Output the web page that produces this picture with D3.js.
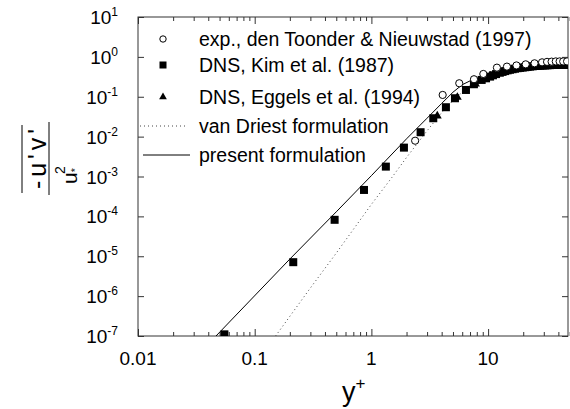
<!DOCTYPE html>
<html>
<head>
<meta charset="utf-8">
<script src="https://cdn.jsdelivr.net/npm/d3@7"></script>
<style>
  body { margin: 0; background: #fff; }
  text { font-family: "Liberation Sans", Arial, Helvetica, sans-serif; fill: #000; }
</style>
</head>
<body>
<svg id="chart" width="570" height="409"></svg>
<script>
// exp., den Toonder & Nieuwstad (1997) - open circles
const expX = [2.37, 4.08, 5.66, 7.57, 9.1, 11.9, 14.5, 17.5, 21, 25, 29, 32, 35, 38, 41, 44, 47.5];
const expY = [0.0079, 0.111, 0.218, 0.275, 0.373, 0.537, 0.57, 0.61, 0.65, 0.69, 0.73, 0.75, 0.76, 0.77, 0.77, 0.77, 0.77];

// DNS, Kim et al. (1987) - filled squares
const kimX = [0.055, 0.214, 0.484, 0.864, 1.33, 1.90, 2.64, 3.39, 4.35, 5.2, 6.46, 7.56, 8.81, 9.6, 10.4, 11.0, 11.7,
              12.6, 13.3, 14.0, 14.7, 15.4, 16.2, 17.0, 17.9, 18.8, 19.8, 20.8, 21.8, 22.9, 24.1, 25.3, 26.6, 27.9,
              29.3, 30.8, 32.3, 33.9, 35.6, 37.4, 39.3, 41.3, 43.0, 44.8, 46.6, 48.4];
const kimY = [1.1e-7, 7.1e-6, 8.2e-5, 4.6e-4, 1.77e-3, 5.3e-3, 0.0129, 0.0289, 0.0546, 0.0917, 0.148, 0.206, 0.264, 0.29, 0.32, 0.345, 0.37,
              0.40, 0.42, 0.44, 0.46, 0.475, 0.49, 0.505, 0.52, 0.53, 0.54, 0.55, 0.56, 0.57, 0.58, 0.59, 0.595, 0.60,
              0.605, 0.61, 0.615, 0.62, 0.625, 0.63, 0.63, 0.635, 0.635, 0.635, 0.63, 0.63];

// DNS, Eggels et al. (1994) - filled triangles
const eggX = [3.67, 5.45, 7.8, 10.5, 14, 20, 28, 40];
const eggY = [0.033, 0.097, 0.21, 0.33, 0.45, 0.55, 0.61, 0.64];

// van Driest formulation - dotted
const vdX = [0.151, 0.3, 0.5, 1, 1.5, 2, 2.5, 3, 4, 5, 6, 7, 8, 10, 13, 17, 22, 30, 40, 50];
const vdY = [1e-7, 1.6e-6, 1.2e-5, 2e-4, 9.5e-4, 3e-3, 7e-3, 0.014, 0.04, 0.08, 0.13, 0.19, 0.25, 0.33, 0.44, 0.53, 0.6, 0.66, 0.69, 0.69];

// present formulation - solid
const prX = [0.0466, 0.2, 0.5, 1, 2, 3, 4, 5, 6, 7, 8, 10, 13, 17, 22, 30, 40, 50];
const prY = [1e-7, 8.5e-6, 1.3e-4, 1.05e-3, 8.8e-3, 0.029, 0.068, 0.13, 0.2, 0.25, 0.29, 0.36, 0.45, 0.53, 0.59, 0.65, 0.68, 0.68];

const xMajor = [0.01, 0.1, 1, 10];
const xMajorLabels = ["0.01", "0.1", "1", "10"];
const yExponents = [1, 0, -1, -2, -3, -4, -5, -6, -7];

const legendLabels = [
  "exp., den Toonder & Nieuwstad (1997)",
  "DNS, Kim et al. (1987)",
  "DNS, Eggels et al. (1994)",
  "van Driest formulation",
  "present formulation"
];

const svg = d3.select("#chart");
const L = 138, R = 568, T = 17, B = 336;

const x = d3.scaleLog().domain([0.01, 50]).range([L, L + 3.699 * 116.7]);
const y = d3.scaleLog().domain([1e-7, 10]).range([B, T]);

// minor x ticks
const xMinor = [];
[0.01, 0.1, 1, 10].forEach(d => { for (let k = 2; k <= 9; k++) { if (d * k <= 50) xMinor.push(d * k); } });

const axisColor = "#333";

function styleAxis(g) {
  g.select(".domain").remove();
  g.selectAll(".tick line").attr("stroke", axisColor).attr("stroke-width", 1);
  g.selectAll(".tick text").remove();
}

svg.append("g").attr("transform", `translate(0,${B})`)
  .call(d3.axisBottom(x).tickValues(xMajor).tickSize(-7)).call(styleAxis);
svg.append("g").attr("transform", `translate(0,${B})`)
  .call(d3.axisBottom(x).tickValues(xMinor).tickSize(-4)).call(styleAxis);
svg.append("g").attr("transform", `translate(0,${T})`)
  .call(d3.axisTop(x).tickValues(xMajor).tickSize(-7)).call(styleAxis);
svg.append("g").attr("transform", `translate(0,${T})`)
  .call(d3.axisTop(x).tickValues(xMinor).tickSize(-4)).call(styleAxis);

const yTicks = yExponents.map(e => Math.pow(10, e));
svg.append("g").attr("transform", `translate(${L},0)`)
  .call(d3.axisLeft(y).tickValues(yTicks).tickSize(-6)).call(styleAxis);
svg.append("g").attr("transform", `translate(${R},0)`)
  .call(d3.axisRight(y).tickValues(yTicks).tickSize(-6)).call(styleAxis);

// frame
svg.append("rect")
  .attr("x", L).attr("y", T).attr("width", R - L).attr("height", B - T)
  .attr("fill", "none").attr("stroke", axisColor).attr("stroke-width", 1);

// x tick labels
svg.append("g").selectAll("text").data(xMajor).join("text")
  .attr("x", d => x(d)).attr("y", B + 29)
  .attr("text-anchor", "middle").attr("font-size", 19)
  .text((d, i) => xMajorLabels[i]);

// y tick labels 10^n
const yl = svg.append("g").selectAll("text").data(yExponents).join("text")
  .attr("x", 118).attr("y", d => y(Math.pow(10, d)) + 7)
  .attr("text-anchor", "end").attr("font-size", 19);
yl.append("tspan").text("10");
yl.append("tspan").attr("font-size", 12).attr("dy", -8).text(d => d);

// clip region
svg.append("clipPath").attr("id", "clip")
  .append("rect").attr("x", L).attr("y", T).attr("width", R - L).attr("height", B - T);

const plot = svg.append("g").attr("clip-path", "url(#clip)");

const line = d3.line().x(d => x(d[0])).y(d => y(d[1]));

plot.append("path").datum(d3.zip(vdX, vdY))
  .attr("d", line).attr("fill", "none").attr("stroke", "#444")
  .attr("stroke-width", 1).attr("stroke-dasharray", "1,3");

plot.append("path").datum(d3.zip(prX, prY))
  .attr("d", line).attr("fill", "none").attr("stroke", "#000").attr("stroke-width", 1);

// markers
const sq = 8;
plot.append("g").selectAll("rect").data(d3.zip(kimX, kimY)).join("rect")
  .attr("x", d => x(d[0]) - sq / 2).attr("y", d => y(d[1]) - sq / 2)
  .attr("width", sq).attr("height", sq).attr("fill", "#000");

const tri = d3.symbol().type(d3.symbolTriangle).size(34);
plot.append("g").selectAll("path").data(d3.zip(eggX, eggY)).join("path")
  .attr("transform", d => `translate(${x(d[0])},${y(d[1])})`)
  .attr("d", tri).attr("fill", "#000");

plot.append("g").selectAll("circle").data(d3.zip(expX, expY)).join("circle")
  .attr("cx", d => x(d[0])).attr("cy", d => y(d[1])).attr("r", 3.6)
  .attr("fill", "#fff").attr("stroke", "#000").attr("stroke-width", 1);

// legend
const legY = [39, 65, 97, 126, 155];
const leg = svg.append("g");
leg.selectAll("text").data(legendLabels).join("text")
  .attr("x", 199).attr("y", (d, i) => legY[i] + 7)
  .attr("font-size", 19.5).text(d => d);
leg.append("circle").attr("cx", 163).attr("cy", legY[0]).attr("r", 3.2)
  .attr("fill", "#fff").attr("stroke", "#000");
leg.append("rect").attr("x", 159.5).attr("y", legY[1] - 3.5).attr("width", 7).attr("height", 7).attr("fill", "#000");
leg.append("path").attr("transform", `translate(163,${legY[2]})`)
  .attr("d", d3.symbol().type(d3.symbolTriangle).size(26)).attr("fill", "#000");
leg.append("line").attr("x1", 140).attr("x2", 188).attr("y1", legY[3]).attr("y2", legY[3])
  .attr("stroke", "#444").attr("stroke-dasharray", "1,3");
leg.append("line").attr("x1", 143).attr("x2", 190).attr("y1", legY[4]).attr("y2", legY[4])
  .attr("stroke", "#000");

// x axis title y+
const xt = svg.append("text").attr("x", 342).attr("y", 401).attr("font-size", 27);
xt.append("tspan").text("y");
xt.append("tspan").attr("font-size", 17).attr("dy", -12).text("+");

// y axis title: fraction
const yt = svg.append("g").attr("transform", "translate(49,159) rotate(-90)");
yt.append("text").attr("x", 0).attr("y", -3).attr("text-anchor", "middle")
  .attr("font-size", 25).attr("textLength", 60).attr("lengthAdjust", "spacing")
  .text("-u'v'");
yt.append("line").attr("x1", -34).attr("x2", 34).attr("y1", -27).attr("y2", -27)
  .attr("stroke", "#000").attr("stroke-width", 1);
yt.append("line").attr("x1", -36).attr("x2", 37).attr("y1", 0).attr("y2", 0)
  .attr("stroke", "#000").attr("stroke-width", 1);
const den = yt.append("text").attr("x", -25).attr("y", 28).attr("font-size", 21);
den.append("tspan").text("u");
den.append("tspan").attr("font-size", 11).attr("dy", 2).text("*");
den.append("tspan").attr("font-size", 14).attr("dx", -6).attr("dy", -14).text("2");
</script>
</body>
</html>
